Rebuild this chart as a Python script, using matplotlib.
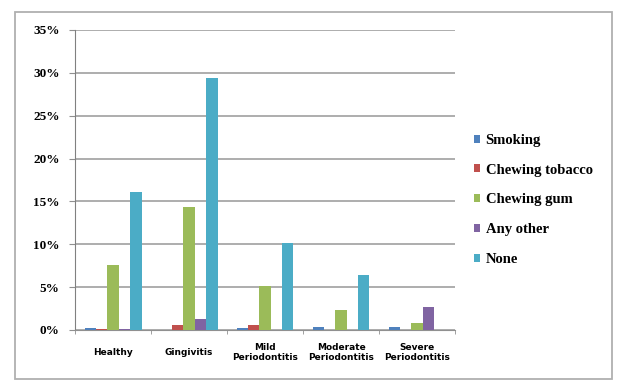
import matplotlib.pyplot as plt
import numpy as np
from matplotlib.patches import Rectangle

categories = ["Healthy", "Gingivitis", "Mild\nPeriodontitis", "Moderate\nPeriodontitis", "Severe\nPeriodontitis"]
series = ["Smoking", "Chewing tobacco", "Chewing gum", "Any other", "None"]
colors = ["#4F81BD", "#C0504D", "#9BBB59", "#8064A2", "#4BACC6"]

smoking = [0.2, 0.0, 0.2, 0.4, 0.4]
chewing_tobacco = [0.1, 0.6, 0.6, 0.0, 0.0]
chewing_gum = [7.6, 14.4, 5.1, 2.3, 0.8]
any_other = [0.1, 1.3, 0.0, 0.0, 2.7]
none = [16.1, 29.4, 10.1, 6.4, 0.0]
values = [smoking, chewing_tobacco, chewing_gum, any_other, none]

fig = plt.figure(figsize=(6.19, 3.81), dpi=100)
fig.patch.set_facecolor("white")
# chart frame
fig.patches.append(Rectangle((15 / 619, 2 / 381), 597 / 619, 367 / 381,
                             transform=fig.transFigure, fill=False,
                             edgecolor="#b0b0b0", lw=1.3))

ax = fig.add_axes([75 / 619, 51 / 381, 380 / 619, 300 / 381])
x = np.arange(len(categories))
w = 0.15
for i, (name, vals) in enumerate(zip(series, values)):
    ax.bar(x + (i - 2) * w, np.array(vals) / 100, width=w, color=colors[i],
           label=name, zorder=3)

ax.set_ylim(0, 0.35)
ax.set_xlim(-0.5, 4.5)
ticks = np.arange(0, 0.36, 0.05)
ax.set_yticks(ticks)
ax.set_yticklabels([f"{int(round(v * 100))}%" for v in ticks],
                   fontsize=9.5, fontweight="bold", family="Liberation Serif")
ax.yaxis.grid(True, color="#a0a0a0", lw=1.2, zorder=0)
ax.set_xticks(x)
ax.set_xticklabels(categories, fontsize=6.5, fontweight="bold",
                   family="Liberation Sans Narrow", linespacing=1.1)
for lbl in ax.get_xticklabels():
    lbl.set_verticalalignment("center")
ax.set_xticks(np.arange(-0.5, 5, 1), minor=True)
ax.tick_params(axis="x", which="major", length=0, pad=16)
ax.tick_params(axis="x", which="minor", length=3, color="#909090")
ax.tick_params(axis="y", length=4, color="#909090", pad=7)
for side in ["top", "right"]:
    ax.spines[side].set_visible(False)
ax.spines["left"].set_color("#808080")
ax.spines["bottom"].set_color("#909090")

fig.legend(loc="upper left", bbox_to_anchor=(468 / 619, 1 - 128 / 381),
           frameon=False, handlelength=0.45, handleheight=0.45,
           handletextpad=0.35, labelspacing=1.15, borderaxespad=0,
           prop={"family": "Liberation Serif", "weight": "bold", "size": 10.5})

fig.savefig("out.png", dpi=100)
